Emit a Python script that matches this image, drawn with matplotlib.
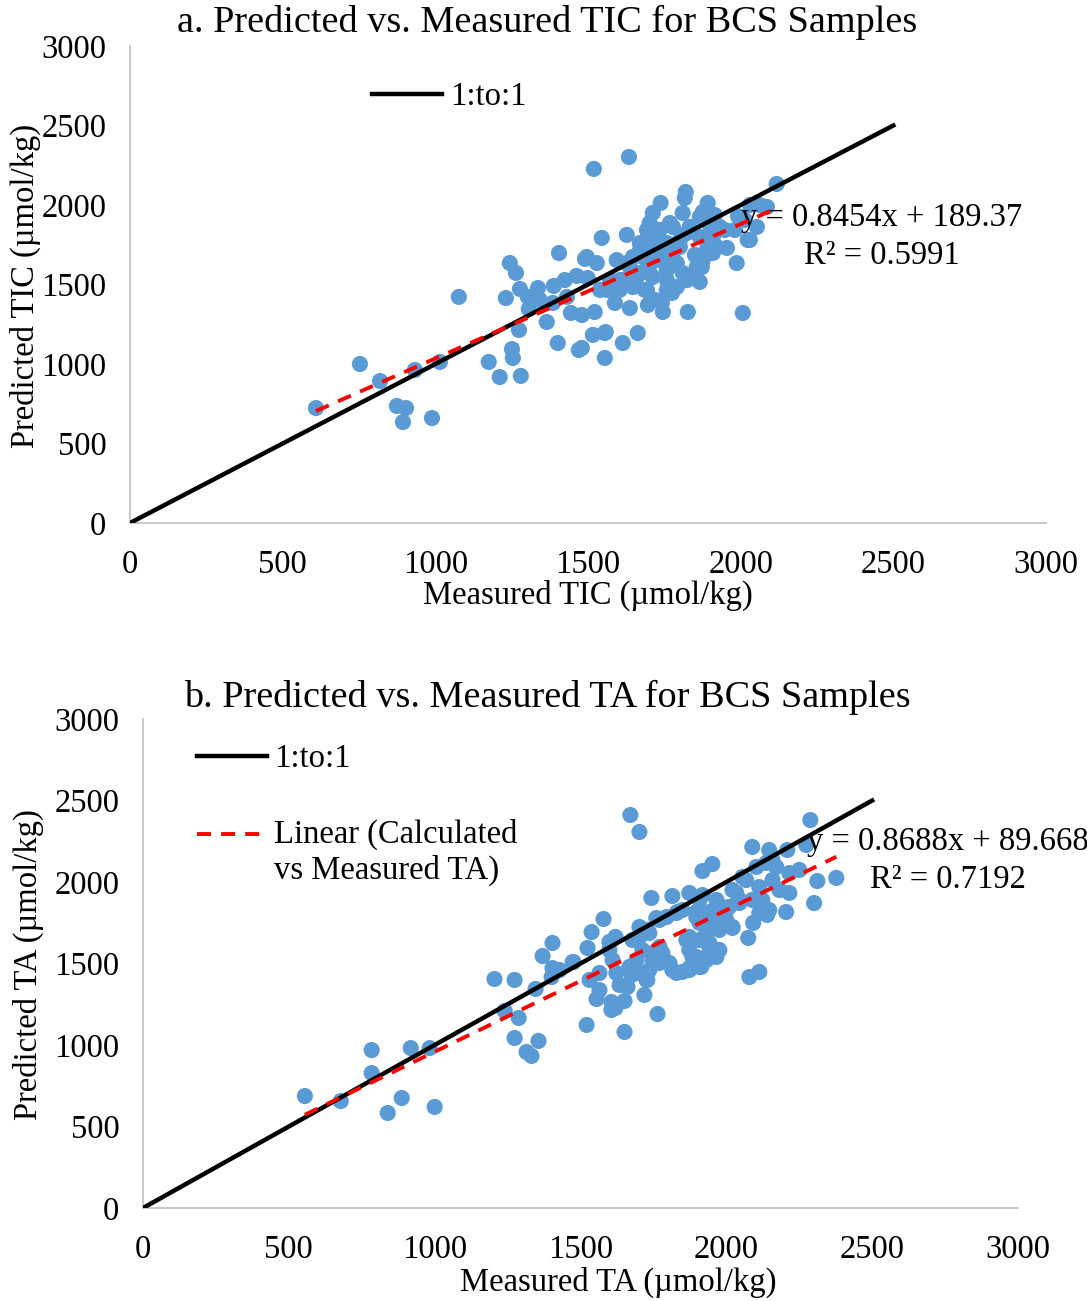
import numpy as np
import matplotlib
matplotlib.use("Agg")
import matplotlib.pyplot as plt
from matplotlib.lines import Line2D
from matplotlib.legend_handler import HandlerLine2D

plt.rcParams["font.family"] = ["Liberation Serif", "DejaVu Serif"]

# TIC: measured vs predicted (umol/kg)
tic_measured = [609, 753, 819, 874, 904, 894, 989, 933, 1015, 1077,
                1175, 1211, 1280, 1251, 1254, 1274, 1231, 1244, 1264, 1277,
                1303, 1306, 1336, 1365, 1388, 1385, 1405, 1401, 1431, 1444,
                1470, 1480, 1463, 1490, 1522, 1516, 1555, 1555, 1519, 1545,
                1529, 1499, 1634, 2118, 1820, 1738, 1712, 1817, 1892, 1810,
                1876, 1915, 1991, 2030, 2063, 2086, 2053, 2023, 1987, 2007,
                1955, 1909, 1873, 1866, 1833, 1778, 1758, 1761, 1745, 1827,
                1696, 1663, 1614, 1558, 1627, 1588, 1637, 1496, 1712, 1693,
                1735, 1680, 1725, 1594, 1637, 1572, 1614, 1660, 1702, 1801,
                1833, 1866, 1909, 1932, 1768, 1702, 1480, 1670, 1752, 1784,
                1850, 1899, 1948, 1981, 2013, 1604, 1686, 1719, 1539, 1424,
                1342, 1866, 1909, 1693, 1735, 1778, 1824, 1670, 1712, 1758,
                1801, 1889, 1922, 1627, 1647, 1693, 1758, 1791, 1670, 1712,
                1758, 1810, 1856, 1876, 1647, 1693, 1758, 1791, 1824, 1604,
                1562, 1742, 1775, 2030]
tic_predicted = [723, 1000, 893, 736, 723, 635, 660, 962, 1013, 1422,
                 1013, 918, 925, 1094, 1038, 1214, 1415, 1635, 1573, 1472,
                 1422, 1346, 1478, 1264, 1491, 1384, 1698, 1132, 1422, 1321,
                 1088, 1308, 1554, 1661, 1327, 1183, 1195, 1038, 2227, 1793,
                 1635, 1541, 2302, 2132, 2082, 2013, 1950, 2044, 2013, 1950,
                 1956, 1937, 1931, 2000, 2000, 1988, 1862, 1780, 1635, 1321,
                 1730, 1698, 1610, 1516, 1541, 1698, 1528, 1447, 1327, 1327,
                 1371, 1195, 1132, 1201, 1812, 1384, 1352, 1673, 1824, 1780,
                 1761, 1673, 1654, 1654, 1610, 1528, 1528, 1547, 1573, 1780,
                 1862, 1799, 1799, 1862, 1887, 1887, 1101, 1717, 1717, 1623,
                 1686, 1874, 1843, 1843, 1906, 1466, 1466, 1403, 1466, 1528,
                 1403, 1925, 1893, 1843, 1843, 1862, 1824, 1761, 1736, 1761,
                 1736, 1717, 1736, 1635, 1673, 1654, 1654, 1635, 1573, 1547,
                 1591, 1573, 1610, 1654, 1484, 1466, 1466, 1484, 1528, 1528,
                 1466, 1384, 1447, 1780]

# TA: measured vs predicted (umol/kg)
ta_measured = [555, 678, 784, 784, 839, 887, 918, 983, 1000, 1205,
               1274, 1240, 1288, 1274, 1356, 1315, 1332, 1346, 1370, 1404,
               1404, 1428, 1401, 1476, 1671, 1702, 2288, 2089, 2147, 2209,
               2274, 1918, 1952, 2377, 2312, 2301, 2205, 1743, 1815, 1873,
               1579, 1538, 1473, 1524, 1620, 1555, 1521, 1651, 1764, 1620,
               1606, 1651, 1661, 2079, 2113, 2075, 2140, 2092, 1702, 1736,
               1771, 1829, 1849, 1908, 1966, 2000, 2021, 1952, 1897, 1873,
               1908, 1942, 1976, 1931, 1884, 1908, 1873, 1829, 1805, 1771,
               1747, 1771, 1712, 1692, 1678, 1668, 1702, 1726, 1623, 1610,
               1599, 1531, 1565, 2021, 2045, 2068, 2103, 2137, 2171, 2158,
               2113, 2089, 2123, 2182, 2216, 2250, 2216, 2055, 2158, 2147,
               2113, 2034, 2045, 2010, 1918, 1986, 1832, 1795, 1760, 1897,
               1942, 2000, 1976, 2021, 1908, 1932, 1884, 1863, 1729, 1702,
               1781, 1747, 1873, 1942, 1966, 1897, 1932, 1966, 1815, 1849,
               1873, 1914, 1736, 1729, 1599, 1634, 1675, 1565, 1719, 1606]
ta_predicted = [687, 656, 969, 828, 583, 675, 981, 981, 620, 1405,
                1399, 1209, 1166, 1043, 1025, 957, 933, 1344, 1546, 1626,
                1472, 1460, 1417, 1509, 2411, 2307, 2380, 2215, 2196, 2196,
                2227, 2067, 2110, 2025, 2006, 1871, 1816, 1902, 1914, 1933,
                1773, 1693, 1509, 1595, 1663, 1282, 1123, 1080, 1190, 1227,
                1264, 1270, 1356, 1417, 1448, 1657, 1798, 1749, 1724, 1687,
                1767, 1810, 1828, 1890, 1890, 1828, 1724, 1767, 1785, 1663,
                1644, 1626, 1583, 1540, 1540, 1479, 1460, 1442, 1503, 1503,
                1564, 1601, 1583, 1521, 1644, 1479, 1442, 1399, 1442, 1521,
                1632, 1399, 1442, 1951, 1890, 2012, 2092, 2117, 2092, 2012,
                1969, 1890, 1890, 1951, 1933, 2074, 2055, 2031, 2135, 1828,
                1810, 1933, 1871, 1847, 1920, 1847, 1816, 1785, 1779, 1816,
                1816, 1767, 1706, 1718, 1749, 1687, 1644, 1644, 1706, 1663,
                1564, 1521, 1583, 1601, 1583, 1540, 1521, 1540, 1460, 1448,
                1472, 1479, 1460, 1399, 1583, 1368, 1429, 1337, 1307, 1215]

# trendline coefficients (slope, intercept) and R^2
tic_fit = (0.8454, 189.37, 0.5991)
ta_fit = (0.8688, 89.668, 0.7192)

dot_color = "#5B9BD5"
spine_color = "#BFBFBF"
fs = 23.5
title_fs = 27.5
trend_lw = 2.8
dash = (0, (3.6, 2.6))


class FirstLineHandler(HandlerLine2D):
    """Puts the legend line level with the first row of a two-row label."""

    def __init__(self, lift, **kw):
        super().__init__(**kw)
        self.lift = lift

    def create_artists(self, legend, orig_handle, xdescent, ydescent,
                       width, height, fontsize, trans):
        return super().create_artists(legend, orig_handle, xdescent, ydescent - 2 * self.lift,
                                      width, height, fontsize, trans)


def style_axes(ax):
    ax.set_xlim(0, 3000)
    ax.set_ylim(0, 3000)
    ax.set_xticks(np.arange(0, 3001, 500))
    ax.set_yticks(np.arange(0, 3001, 500))
    for s in ["top", "right"]:
        ax.spines[s].set_visible(False)
    for s in ["left", "bottom"]:
        ax.spines[s].set_color(spine_color)
        ax.spines[s].set_linewidth(1.2)
    ax.tick_params(axis="x", length=0, pad=19, labelsize=fs)
    ax.tick_params(axis="y", length=0, pad=17, labelsize=fs)


def draw_panel(ax, meas, pred, fit):
    slope, intercept, r2 = fit
    ax.scatter(meas, pred, s=135, color=dot_color, edgecolors="none", zorder=2, clip_on=False)
    ax.plot([0, 2500], [0, 2500], color="black", lw=3.2, zorder=3)
    xs = np.array([min(meas), max(meas)])
    ax.plot(xs, slope * xs + intercept, color="red", lw=trend_lw, ls=dash, zorder=4)
    return f"y = {slope}x + {intercept}\nR² = {r2}"


fig = plt.figure(figsize=(10.87, 13.01), dpi=100)

# panel a: TIC
ax1 = fig.add_axes([130 / 1087, 1 - 523 / 1301, 916 / 1087, 477 / 1301])
style_axes(ax1)
eq = draw_panel(ax1, tic_measured, tic_predicted, tic_fit)
ax1.text(0.821, 0.600, eq, transform=ax1.transAxes, ha="center", va="center",
         fontsize=fs, linespacing=1.3)
ax1.legend(handles=[Line2D([], [], color="black", lw=3.2)], labels=["1:to:1"],
           loc="center left", bbox_to_anchor=(0.264, 0.893), frameon=False,
           fontsize=fs, handlelength=2.15, handletextpad=0.25, borderpad=0, borderaxespad=0)
fig.text(547 / 1087, 1 - 22 / 1301, "a. Predicted vs. Measured TIC for BCS Samples",
         ha="center", va="center", fontsize=title_fs)
fig.text(588 / 1087, 1 - 595 / 1301, "Measured TIC (µmol/kg)", ha="center", va="center", fontsize=fs)
fig.text(25 / 1087, 1 - 286 / 1301, "Predicted TIC (µmol/kg)", ha="center", va="center",
         rotation=90, fontsize=fs)

# panel b: TA
ax2 = fig.add_axes([143 / 1087, 1 - 1208 / 1301, 875 / 1087, 489 / 1301])
style_axes(ax2)
eq = draw_panel(ax2, ta_measured, ta_predicted, ta_fit)
ax2.text(0.92, 0.710, eq, transform=ax2.transAxes, ha="center", va="center",
         fontsize=fs, linespacing=1.3)
one_to_one = Line2D([], [], color="black", lw=3.2)
linear = Line2D([], [], color="red", lw=trend_lw, ls=dash)
ax2.legend(handles=[one_to_one, linear],
           labels=["1:to:1", "Linear (Calculated\nvs Measured TA)"],
           handler_map={linear: FirstLineHandler(13)},
           loc="upper left", bbox_to_anchor=(0.062, 0.950), frameon=False,
           fontsize=fs, handlelength=2.15, handletextpad=0.2, labelspacing=1.36,
           borderpad=0, borderaxespad=0)
fig.text(547 / 1087, 1 - 697 / 1301, "b. Predicted vs. Measured TA for BCS Samples",
         ha="center", va="center", fontsize=title_fs)
fig.text(618 / 1087, 1 - 1282 / 1301, "Measured TA (µmol/kg)", ha="center", va="center", fontsize=fs)
fig.text(28 / 1087, 1 - 965 / 1301, "Predicted TA (µmol/kg)", ha="center", va="center",
         rotation=90, fontsize=fs)

fig.savefig("out.png", dpi=100)
